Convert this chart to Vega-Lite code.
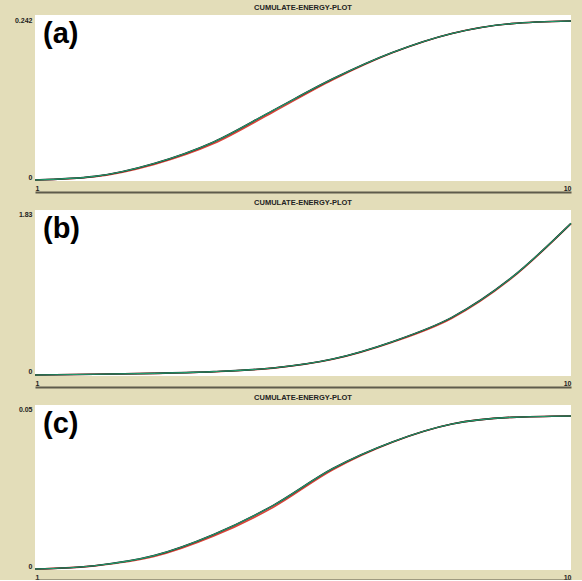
{
  "$schema": "https://vega.github.io/schema/vega-lite/v6.json",
  "background": "#e3ddb9",
  "padding": {"left": 14, "top": 3, "right": 11, "bottom": 0},
  "bounds": "flush",
  "spacing": 29,
  "config": {
    "view": {"fill": "white", "stroke": null},
    "axis": {"grid": false, "ticks": false, "domain": false, "labelFont": "Liberation Sans", "labelFontWeight": "bold", "labelFontSize": 7, "labelColor": "#222222", "title": null, "labelPadding": 3},
    "axisX": {"values": [1, 10], "labelFlush": true, "labelExpr": "format(datum.value, 'd')", "domain": true, "domainColor": "#5e5b4b", "domainWidth": 2, "offset": 11, "labelPadding": -8},
    "axisY": {"labelFlush": 2, "labelExpr": "format(datum.value, '~g')"},
    "title": {"font": "Liberation Sans", "fontSize": 7.5, "fontWeight": "bold", "color": "#222222", "offset": 4, "anchor": "middle"}
  },
  "vconcat": [
    {
      "title": "CUMULATE-ENERGY-PLOT",
      "width": 536, "height": 166,
      "data": {"values": [
        {"t": 1, "r": 0, "k": 0, "g": 0},
        {"t": 2, "r": 0.005, "k": 0.0055, "g": 0.0055},
        {"t": 3, "r": 0.0238, "k": 0.0252, "g": 0.0252},
        {"t": 4, "r": 0.0555, "k": 0.058, "g": 0.058},
        {"t": 5, "r": 0.1035, "k": 0.106, "g": 0.106},
        {"t": 6, "r": 0.1525, "k": 0.154, "g": 0.154},
        {"t": 7, "r": 0.1935, "k": 0.194, "g": 0.194},
        {"t": 8, "r": 0.223, "k": 0.223, "g": 0.223},
        {"t": 9, "r": 0.238, "k": 0.238, "g": 0.238},
        {"t": 10, "r": 0.242, "k": 0.242, "g": 0.242}
      ]},
      "layer": [
        {"mark": {"type": "line", "color": "#d9453a", "strokeWidth": 1.6, "interpolate": "monotone"},
         "encoding": {
           "x": {"field": "t", "type": "quantitative", "scale": {"domain": [1, 10], "nice": false, "zero": false}, "axis": {"values": [1, 10]}},
           "y": {"field": "r", "type": "quantitative", "scale": {"domain": [-0.0015, 0.2511], "nice": false, "zero": false}, "axis": {"values": [0, 0.242]}}
         }},
        {"mark": {"type": "line", "color": "#1a1a1a", "strokeWidth": 1.6, "interpolate": "monotone"},
         "encoding": {"x": {"field": "t", "type": "quantitative", "axis": {"values": [1, 10]}}, "y": {"field": "k", "type": "quantitative", "axis": {"values": [0, 0.242]}}}},
        {"mark": {"type": "line", "color": "#219a6c", "strokeWidth": 1.1, "interpolate": "monotone"},
         "encoding": {"x": {"field": "t", "type": "quantitative", "axis": {"values": [1, 10]}}, "y": {"field": "g", "type": "quantitative", "axis": {"values": [0, 0.242]}}}},
        {"data": {"values": [{"label": "(a)"}]},
         "mark": {"type": "text", "font": "Liberation Sans", "fontWeight": "bold", "fontSize": 29, "align": "left", "baseline": "top", "dx": 8, "dy": 5, "color": "#000000"},
         "encoding": {
           "text": {"field": "label"},
           "x": {"datum": 1, "type": "quantitative", "axis": {"values": [1, 10]}},
           "y": {"datum": 0.2511, "type": "quantitative", "axis": {"values": [0, 0.242]}}
         }}
      ]
    },
    {
      "title": "CUMULATE-ENERGY-PLOT",
      "width": 536, "height": 166,
      "data": {"values": [
        {"t": 1, "r": 0, "k": 0, "g": 0},
        {"t": 2, "r": 0.008, "k": 0.008, "g": 0.008},
        {"t": 3, "r": 0.019, "k": 0.019, "g": 0.019},
        {"t": 4, "r": 0.037, "k": 0.038, "g": 0.038},
        {"t": 5, "r": 0.078, "k": 0.08, "g": 0.08},
        {"t": 6, "r": 0.178, "k": 0.182, "g": 0.182},
        {"t": 7, "r": 0.372, "k": 0.379, "g": 0.379},
        {"t": 8, "r": 0.645, "k": 0.655, "g": 0.655},
        {"t": 9, "r": 1.098, "k": 1.106, "g": 1.106},
        {"t": 10, "r": 1.72, "k": 1.724, "g": 1.724}
      ]},
      "layer": [
        {"mark": {"type": "line", "color": "#d9453a", "strokeWidth": 1.6, "interpolate": "monotone"},
         "encoding": {
           "x": {"field": "t", "type": "quantitative", "scale": {"domain": [1, 10], "nice": false, "zero": false}, "axis": {"values": [1, 10]}},
           "y": {"field": "r", "type": "quantitative", "scale": {"domain": [-0.0114, 1.8755], "nice": false, "zero": false}, "axis": {"values": [0, 1.83]}}
         }},
        {"mark": {"type": "line", "color": "#1a1a1a", "strokeWidth": 1.6, "interpolate": "monotone"},
         "encoding": {"x": {"field": "t", "type": "quantitative", "axis": {"values": [1, 10]}}, "y": {"field": "k", "type": "quantitative", "axis": {"values": [0, 1.83]}}}},
        {"mark": {"type": "line", "color": "#219a6c", "strokeWidth": 1.1, "interpolate": "monotone"},
         "encoding": {"x": {"field": "t", "type": "quantitative", "axis": {"values": [1, 10]}}, "y": {"field": "g", "type": "quantitative", "axis": {"values": [0, 1.83]}}}},
        {"data": {"values": [{"label": "(b)"}]},
         "mark": {"type": "text", "font": "Liberation Sans", "fontWeight": "bold", "fontSize": 29, "align": "left", "baseline": "top", "dx": 8, "dy": 5, "color": "#000000"},
         "encoding": {
           "text": {"field": "label"},
           "x": {"datum": 1, "type": "quantitative", "axis": {"values": [1, 10]}},
           "y": {"datum": 1.8755, "type": "quantitative", "axis": {"values": [0, 1.83]}}
         }}
      ]
    },
    {
      "title": "CUMULATE-ENERGY-PLOT",
      "width": 536, "height": 165,
      "data": {"values": [
        {"t": 1, "r": 0, "k": 0, "g": 0},
        {"t": 2, "r": 0.001, "k": 0.00105, "g": 0.00105},
        {"t": 3, "r": 0.0039, "k": 0.0042, "g": 0.0042},
        {"t": 4, "r": 0.0103, "k": 0.0108, "g": 0.0108},
        {"t": 5, "r": 0.0193, "k": 0.0199, "g": 0.0199},
        {"t": 6, "r": 0.031, "k": 0.0314, "g": 0.0314},
        {"t": 7, "r": 0.0396, "k": 0.0397, "g": 0.0397},
        {"t": 8, "r": 0.0453, "k": 0.0453, "g": 0.0453},
        {"t": 9, "r": 0.0474, "k": 0.0474, "g": 0.0474},
        {"t": 10, "r": 0.0478, "k": 0.0478, "g": 0.0478}
      ]},
      "layer": [
        {"mark": {"type": "line", "color": "#d9453a", "strokeWidth": 1.6, "interpolate": "monotone"},
         "encoding": {
           "x": {"field": "t", "type": "quantitative", "scale": {"domain": [1, 10], "nice": false, "zero": false}, "axis": {"values": [1, 10], "offset": 10, "labelPadding": -7}},
           "y": {"field": "r", "type": "quantitative", "scale": {"domain": [-0.0003, 0.05126], "nice": false, "zero": false}, "axis": {"values": [0, 0.05]}}
         }},
        {"mark": {"type": "line", "color": "#1a1a1a", "strokeWidth": 1.6, "interpolate": "monotone"},
         "encoding": {"x": {"field": "t", "type": "quantitative", "axis": {"values": [1, 10], "offset": 10, "labelPadding": -7}}, "y": {"field": "k", "type": "quantitative", "axis": {"values": [0, 0.05]}}}},
        {"mark": {"type": "line", "color": "#219a6c", "strokeWidth": 1.1, "interpolate": "monotone"},
         "encoding": {"x": {"field": "t", "type": "quantitative", "axis": {"values": [1, 10], "offset": 10, "labelPadding": -7}}, "y": {"field": "g", "type": "quantitative", "axis": {"values": [0, 0.05]}}}},
        {"data": {"values": [{"label": "(c)"}]},
         "mark": {"type": "text", "font": "Liberation Sans", "fontWeight": "bold", "fontSize": 29, "align": "left", "baseline": "top", "dx": 8, "dy": 5, "color": "#000000"},
         "encoding": {
           "text": {"field": "label"},
           "x": {"datum": 1, "type": "quantitative", "axis": {"values": [1, 10], "offset": 10, "labelPadding": -7}},
           "y": {"datum": 0.05126, "type": "quantitative", "axis": {"values": [0, 0.05]}}
         }}
      ]
    }
  ]
}
